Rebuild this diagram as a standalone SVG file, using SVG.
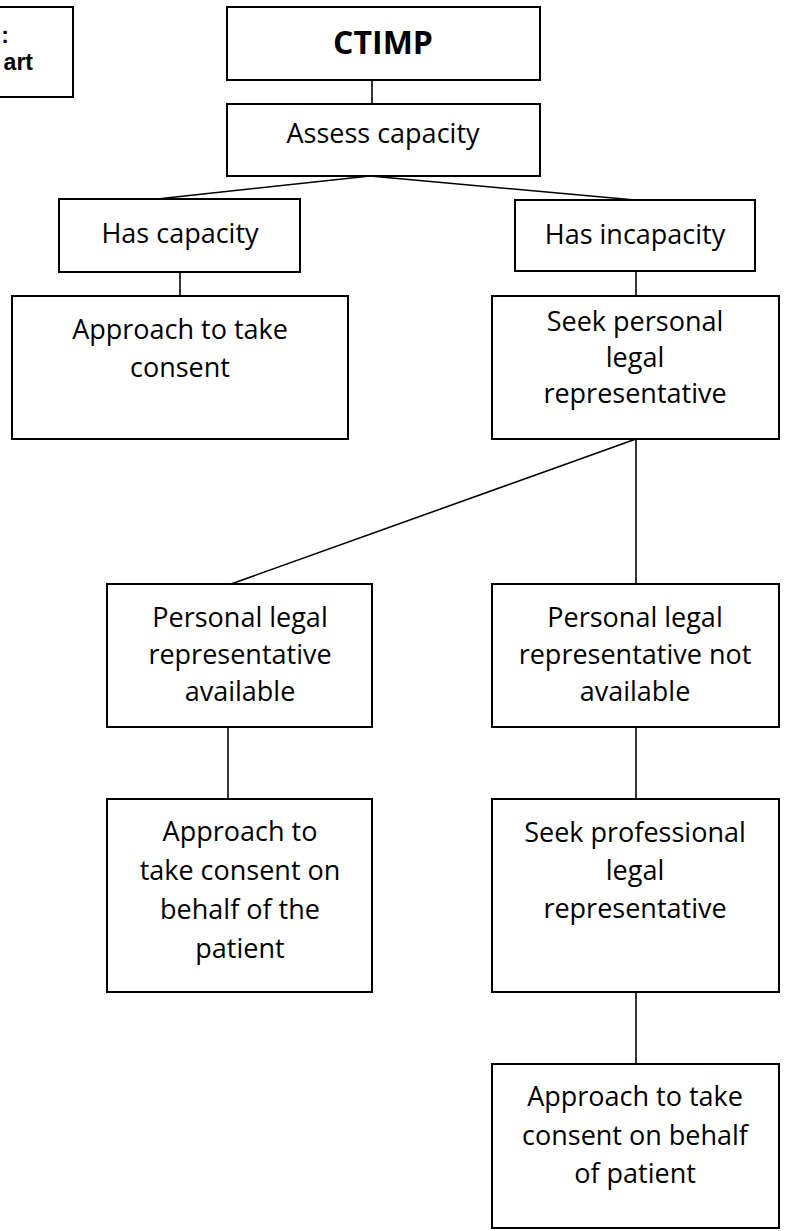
<svg xmlns="http://www.w3.org/2000/svg" width="787" height="1231" viewBox="0 0 787 1231">
<style>
.box{fill:#fff;stroke:#000;stroke-width:2}
.ln{stroke:#000;stroke-width:1.6;fill:none}
text{font-family:"Open Sans","Liberation Sans",sans-serif;font-size:27px;fill:#000;text-anchor:middle}
.b{font-weight:bold;font-size:32px}
.cap{font-family:"Liberation Sans",Arial,sans-serif;font-weight:bold;font-size:23px;text-anchor:end}
</style>
<rect width="787" height="1231" fill="#fff"/>
<g id="connectors">
<line class="ln" x1="372" y1="80" x2="372" y2="104"/>
<line class="ln" x1="370" y1="176" x2="157" y2="199"/>
<line class="ln" x1="370" y1="176" x2="635" y2="200"/>
<line class="ln" x1="180" y1="272" x2="180" y2="296"/>
<line class="ln" x1="636" y1="271" x2="636" y2="296"/>
<line class="ln" x1="636" y1="439" x2="231" y2="584"/>
<line class="ln" x1="636" y1="439" x2="636" y2="584"/>
<line class="ln" x1="228" y1="727" x2="228" y2="799"/>
<line class="ln" x1="636" y1="727" x2="636" y2="799"/>
<line class="ln" x1="636" y1="992" x2="636" y2="1064"/>
</g>
<g id="caption">
<rect class="box" x="-10" y="7" width="83" height="90"/>
<text class="cap" x="9" y="43">:</text>
<text class="cap" x="33" y="70">art</text>
</g>
<g id="ctimp">
<rect class="box" x="227" y="7" width="313" height="73"/>
<text class="b" x="383" y="54">CTIMP</text>
</g>
<g id="assess">
<rect class="box" x="227" y="104" width="313" height="72"/>
<text x="383" y="143">Assess capacity</text>
</g>
<g id="has-capacity">
<rect class="box" x="59" y="199" width="241" height="73"/>
<text x="180" y="243">Has capacity</text>
</g>
<g id="has-incapacity">
<rect class="box" x="515" y="200" width="240" height="71"/>
<text x="635" y="244">Has incapacity</text>
</g>
<g id="approach-consent">
<rect class="box" x="12" y="296" width="336" height="143"/>
<text x="180" y="339">Approach to take</text>
<text x="180" y="377">consent</text>
</g>
<g id="seek-personal">
<rect class="box" x="492" y="296" width="287" height="143"/>
<text x="635" y="331">Seek personal</text>
<text x="635" y="367">legal</text>
<text x="635" y="403">representative</text>
</g>
<g id="plr-available">
<rect class="box" x="107" y="584" width="265" height="143"/>
<text x="240" y="627">Personal legal</text>
<text x="240" y="664">representative</text>
<text x="240" y="701">available</text>
</g>
<g id="plr-not-available">
<rect class="box" x="492" y="584" width="287" height="143"/>
<text x="635" y="627">Personal legal</text>
<text x="635" y="664">representative not</text>
<text x="635" y="701">available</text>
</g>
<g id="approach-behalf">
<rect class="box" x="107" y="799" width="265" height="193"/>
<text x="240" y="841">Approach to</text>
<text x="240" y="880">take consent on</text>
<text x="240" y="919">behalf of the</text>
<text x="240" y="958">patient</text>
</g>
<g id="seek-professional">
<rect class="box" x="492" y="799" width="287" height="193"/>
<text x="635" y="842">Seek professional</text>
<text x="635" y="880">legal</text>
<text x="635" y="918">representative</text>
</g>
<g id="approach-behalf-patient">
<rect class="box" x="492" y="1064" width="287" height="164"/>
<text x="635" y="1106">Approach to take</text>
<text x="635" y="1145">consent on behalf</text>
<text x="635" y="1183">of patient</text>
</g>
</svg>
